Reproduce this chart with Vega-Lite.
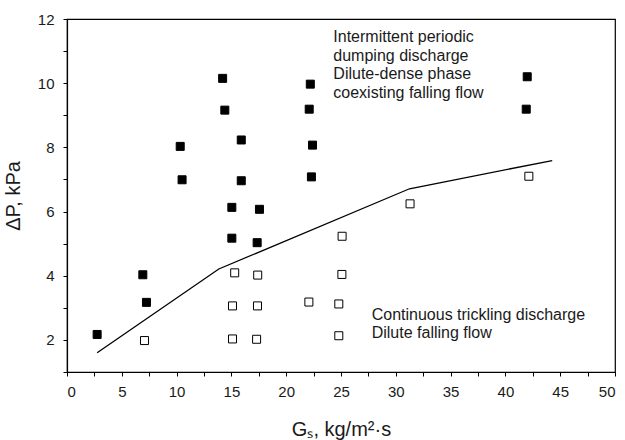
{
  "$schema": "https://vega.github.io/schema/vega-lite/v6.json",
  "width": 548,
  "height": 353,
  "autosize": "none",
  "padding": {"left": 67, "top": 19, "right": 10, "bottom": 68},
  "background": "white",
  "config": {
    "font": "Liberation Sans",
    "view": {"stroke": "black", "strokeWidth": 1.2},
    "axis": {
      "domainColor": "black",
      "domainWidth": 1.2,
      "tickColor": "black",
      "tickWidth": 1,
      "tickSize": 4,
      "grid": false,
      "labelFont": "Liberation Sans",
      "labelFontSize": 15,
      "labelColor": "#1a1a1a",
      "titleFont": "Liberation Sans",
      "titleFontSize": 20,
      "titleFontWeight": "normal",
      "titleColor": "#1a1a1a",
      "labelOverlap": false
    }
  },
  "datasets": {
    "points": [
      {"Gs": 2.75, "dP": 2.17, "regime": "dense"},
      {"Gs": 6.92, "dP": 4.03, "regime": "dense"},
      {"Gs": 7.25, "dP": 3.17, "regime": "dense"},
      {"Gs": 10.33, "dP": 8.03, "regime": "dense"},
      {"Gs": 10.5, "dP": 6.99, "regime": "dense"},
      {"Gs": 14.2, "dP": 10.15, "regime": "dense"},
      {"Gs": 14.4, "dP": 9.16, "regime": "dense"},
      {"Gs": 15.04, "dP": 6.13, "regime": "dense"},
      {"Gs": 15.04, "dP": 5.17, "regime": "dense"},
      {"Gs": 15.9, "dP": 8.23, "regime": "dense"},
      {"Gs": 15.9, "dP": 6.96, "regime": "dense"},
      {"Gs": 17.56, "dP": 6.07, "regime": "dense"},
      {"Gs": 17.35, "dP": 5.03, "regime": "dense"},
      {"Gs": 22.2, "dP": 9.97, "regime": "dense"},
      {"Gs": 22.1, "dP": 9.19, "regime": "dense"},
      {"Gs": 22.4, "dP": 8.07, "regime": "dense"},
      {"Gs": 22.3, "dP": 7.08, "regime": "dense"},
      {"Gs": 41.99, "dP": 10.2, "regime": "dense"},
      {"Gs": 41.9, "dP": 9.19, "regime": "dense"},
      {"Gs": 7.07, "dP": 1.98, "regime": "dilute"},
      {"Gs": 15.3, "dP": 4.09, "regime": "dilute"},
      {"Gs": 17.4, "dP": 4.02, "regime": "dilute"},
      {"Gs": 15.1, "dP": 3.06, "regime": "dilute"},
      {"Gs": 17.38, "dP": 3.06, "regime": "dilute"},
      {"Gs": 15.1, "dP": 2.03, "regime": "dilute"},
      {"Gs": 17.3, "dP": 2.02, "regime": "dilute"},
      {"Gs": 22.07, "dP": 3.18, "regime": "dilute"},
      {"Gs": 25.1, "dP": 5.23, "regime": "dilute"},
      {"Gs": 25.08, "dP": 4.04, "regime": "dilute"},
      {"Gs": 24.8, "dP": 3.12, "regime": "dilute"},
      {"Gs": 24.8, "dP": 2.13, "regime": "dilute"},
      {"Gs": 31.3, "dP": 6.24, "regime": "dilute"},
      {"Gs": 42.14, "dP": 7.1, "regime": "dilute"}
    ],
    "boundary": [
      {"Gs": 2.75, "dP": 1.6},
      {"Gs": 13.85, "dP": 4.21},
      {"Gs": 31.25, "dP": 6.71},
      {"Gs": 44.27, "dP": 7.59}
    ],
    "labels": [
      {"Gs": 24.3, "dP": 11.45, "text": "Intermittent periodic"},
      {"Gs": 24.3, "dP": 10.86, "text": "dumping discharge"},
      {"Gs": 24.3, "dP": 10.28, "text": "Dilute-dense phase"},
      {"Gs": 24.3, "dP": 9.69, "text": "coexisting falling flow"},
      {"Gs": 27.8, "dP": 2.77, "text": "Continuous trickling discharge"},
      {"Gs": 27.8, "dP": 2.2, "text": "Dilute falling flow"}
    ]
  },
  "encoding": {
    "x": {
      "field": "Gs",
      "type": "quantitative",
      "scale": {"domain": [0, 50], "nice": false, "zero": false},
      "axis": {
        "title": "Gₛ, kg/m²·s",
        "values": [0, 2.5, 5, 7.5, 10, 12.5, 15, 17.5, 20, 22.5, 25, 27.5, 30, 32.5, 35, 37.5, 40, 42.5, 45, 47.5, 50],
        "labelExpr": "datum.value % 5 === 0 ? datum.label : ''",
        "labelPadding": 8,
        "titlePadding": 20
      }
    },
    "y": {
      "field": "dP",
      "type": "quantitative",
      "scale": {"domain": [1, 12], "nice": false, "zero": false},
      "axis": {
        "title": "ΔP, kPa",
        "values": [1, 2, 3, 4, 5, 6, 7, 8, 9, 10, 11, 12],
        "labelExpr": "datum.value % 2 === 0 ? datum.label : ''",
        "labelPadding": 9,
        "titlePadding": 14
      }
    }
  },
  "layer": [
    {
      "data": {"name": "boundary"},
      "mark": {"type": "line", "color": "black", "strokeWidth": 1.3}
    },
    {
      "data": {"name": "points"},
      "mark": {"type": "point", "shape": "square", "filled": true, "size": 64, "stroke": "black", "strokeWidth": 1, "opacity": 1},
      "encoding": {
        "fill": {
          "field": "regime",
          "type": "nominal",
          "scale": {"domain": ["dense", "dilute"], "range": ["black", "white"]},
          "legend": null
        }
      }
    },
    {
      "data": {"name": "labels"},
      "mark": {"type": "text", "align": "left", "baseline": "middle", "fontSize": 16, "font": "Liberation Sans", "color": "#1a1a1a"},
      "encoding": {"text": {"field": "text", "type": "nominal"}}
    }
  ]
}
